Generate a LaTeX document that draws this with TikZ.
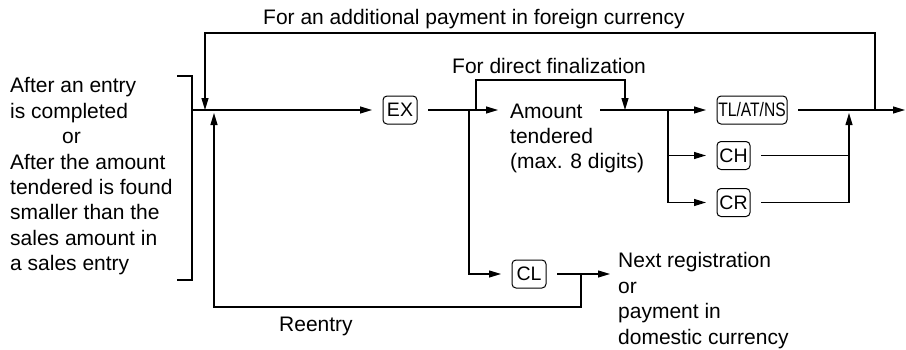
\documentclass[tikz,border=0pt]{standalone}
\usepackage{fontspec}
\usepackage{graphicx}
\setmainfont{Liberation Sans}
\usetikzlibrary{arrows.meta}
\begin{document}
\begin{tikzpicture}[x=1pt,y=-1pt]
\tikzset{
 keybox/.style={draw, line width=1pt, rounded corners=4pt, minimum height=28pt, inner sep=0pt, outer xsep=11pt, outer ysep=0pt, font=\fontsize{19.5}{19.5}\selectfont},
 flow/.style={line width=1.1pt},
 arr/.style={flow, -{Triangle[length=12pt,width=7pt]}},
 lbl/.style={inner sep=0pt, font=\fontsize{21}{25.4}\selectfont, align=left},
}
\useasboundingbox (0,0) rectangle (906,349);

% labels
\node[lbl, anchor=north west] (cond) at (10,77.5) {After an entry\\is completed\\\hspace*{52pt}or\\After the amount\\tendered is found\\smaller than the\\sales amount in\\a sales entry};
\node[lbl, anchor=base west] (addl) at (263,24) {For an additional payment in foreign currency};
\node[lbl, anchor=base west] (dfin) at (452,73) {For direct finalization};
\node[lbl, anchor=north west] (amt) at (510,103.5) {Amount\\tendered\\(max. 8 digits)};
\node[lbl, anchor=base west] (reen) at (279,331) {Reentry};
\node[lbl, anchor=north west] (next) at (618,252.5) {Next registration\\or\\payment in\\domestic currency};

% keys
\node[keybox, minimum width=34pt] (ex) at (400,110) {EX};
\node[keybox, minimum width=70pt] (tl) at (752,110) {\scalebox{0.8}[1]{TL/AT/NS}};
\node[keybox, minimum width=33pt] (ch) at (733.5,155.5) {CH};
\node[keybox, minimum width=33pt] (cr) at (733.5,202.5) {CR};
\node[keybox, minimum width=34pt] (cl) at (529,274) {CL};

% coordinates
\coordinate (bt) at (177,76);
\coordinate (bb) at (177,280);
\coordinate (ja) at (192,110);
\coordinate (jdown) at (205,110);
\coordinate (jup) at (214,110);
\coordinate (jcl) at (469,110);
\coordinate (jdf) at (476,110);
\coordinate (ain) at (498,110);
\coordinate (aout) at (600,110);
\coordinate (jdfin) at (625,110);
\coordinate (jbr) at (668,110);
\coordinate (jr) at (849,110);
\coordinate (jtop) at (875,110);
\coordinate (out) at (905,110);
\coordinate (nin) at (610,274);
\coordinate (jre) at (581,274);

% bracket
\draw[flow] (bt) -- (bt -| ja) -- (bb -| ja) -- (bb);

% main line
\draw[arr] (ja) -- (ex);
\draw[flow] (ex) -- (jdf);
\draw[arr] (jdf) -- (ain);
\draw[arr] (aout) -- (tl);
\draw[arr] (tl) -- (out);

% additional payment loop
\draw[arr] (jtop) -- ++(0,-77) -| (jdown);
% direct finalization
\draw[arr] (jdf) -- ++(0,-30) -| (jdfin);

% branches to CH / CR
\draw[arr] (jbr) |- (ch);
\draw[arr] (jbr) |- (cr);
\draw[flow] (ch) -- (ch -| jr);
\draw[arr, shorten >=3pt] (cr) -| (jr);

% CL branch
\draw[arr] (jcl) |- (cl);
\draw[arr] (cl) -- (nin);
\draw[arr, shorten >=3pt] (jre) |- (214,307) -- (jup);
\end{tikzpicture}
\end{document}
